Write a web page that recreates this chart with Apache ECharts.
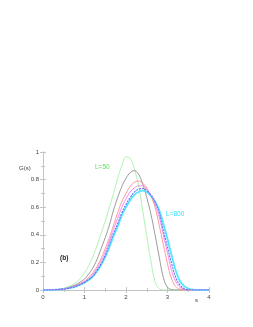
<!DOCTYPE html>
<html><head><meta charset="utf-8">
<script src="https://cdn.jsdelivr.net/npm/echarts@6/dist/echarts.min.js"></script>
<style>html,body{margin:0;padding:0;background:#fff}#c{width:253px;height:327px}</style>
</head><body><div id="c"></div>
<script>
// s values 0.0 .. 4.0 step 0.1
const sValues = [0,0.1,0.2,0.3,0.4,0.5,0.6,0.7,0.8,0.9,1.0,1.1,1.2,1.3,1.4,1.5,1.6,1.7,1.8,1.9,2.0,2.1,2.2,2.3,2.4,2.5,2.6,2.7,2.8,2.9,3.0,3.1,3.2,3.3,3.4,3.5,3.6,3.7,3.8,3.9,4.0];
const gL50 = [0,0,0.001,0.003,0.007,0.013,0.022,0.035,0.055,0.085,0.125,0.175,0.24,0.32,0.41,0.50,0.60,0.70,0.81,0.90,0.965,0.955,0.88,0.76,0.58,0.39,0.21,0.06,0.01,0,0,0,0,0,0,0,0,0,0,0,0];
const gL100 = [0,0,0.001,0.002,0.005,0.01,0.017,0.027,0.04,0.058,0.08,0.115,0.16,0.22,0.30,0.38,0.47,0.58,0.67,0.75,0.81,0.85,0.865,0.84,0.77,0.67,0.55,0.40,0.24,0.09,0.02,0.003,0,0,0,0,0,0,0,0,0];
const gL200 = [0,0,0.001,0.002,0.004,0.008,0.014,0.022,0.033,0.048,0.065,0.09,0.125,0.17,0.23,0.30,0.38,0.47,0.56,0.64,0.70,0.75,0.78,0.79,0.775,0.74,0.68,0.60,0.47,0.33,0.19,0.08,0.025,0.005,0,0,0,0,0,0,0];
const gL300 = [0,0,0.001,0.002,0.004,0.0075,0.013,0.02,0.03,0.044,0.06,0.082,0.112,0.155,0.21,0.275,0.355,0.44,0.52,0.60,0.66,0.71,0.74,0.755,0.755,0.73,0.685,0.62,0.53,0.40,0.27,0.14,0.06,0.02,0.005,0,0,0,0,0,0];
const gL400 = [0,0,0.001,0.002,0.004,0.007,0.012,0.019,0.028,0.04,0.055,0.075,0.10,0.14,0.19,0.25,0.33,0.41,0.48,0.56,0.62,0.67,0.71,0.73,0.735,0.72,0.69,0.64,0.56,0.43,0.31,0.19,0.09,0.035,0.01,0.002,0,0,0,0,0];
const gL800 = [0,0,0.001,0.002,0.004,0.007,0.011,0.018,0.027,0.038,0.052,0.072,0.097,0.135,0.18,0.24,0.31,0.39,0.46,0.54,0.60,0.65,0.69,0.71,0.72,0.71,0.68,0.64,0.58,0.48,0.37,0.25,0.14,0.065,0.028,0.011,0.004,0,0,0,0];
const xTicks = [0,1,2,3,4];
const yTicks = [0,0.2,0.4,0.6,0.8,1];

const pairs = arr => sValues.map((s,i)=>[s,arr[i]]);
const fontF = 'Liberation Sans, Arial, sans-serif';
const chart = echarts.init(document.getElementById('c'), null, {renderer:'canvas'});
const axBase = {
  type:'value', min:0,
  axisLine:{show:true,lineStyle:{color:'#c4c4c4',width:1}},
  axisTick:{show:true,inside:true,length:3,lineStyle:{color:'#c4c4c4'}},
  minorTick:{show:true,splitNumber:2,length:2,lineStyle:{color:'#c4c4c4'}},
  splitLine:{show:false},
};
const series = [
  {name:'L=50', data:pairs(gL50), color:'#90ee90', w:0.7, t:'solid'},
  {name:'L=100', data:pairs(gL100), color:'#707070', w:0.7, t:'solid'},
  {name:'L=200', data:pairs(gL200), color:'#ff8080', w:0.8, t:'solid'},
  {name:'L=800', data:pairs(gL800), color:'#50e8ff', w:1.8, t:'solid'},
  {name:'L=300', data:pairs(gL300), color:'#f080f0', w:0.9, t:'solid'},
  {name:'L=400', data:pairs(gL400), color:'#6a6aff', w:1.1, t:[2,1]},
].map(s=>({type:'line',name:s.name,data:s.data,smooth:0.4,showSymbol:false,
  lineStyle:{color:s.color,width:s.w,type:s.t},itemStyle:{color:s.color},silent:true,animation:false,z:2}));

chart.setOption({
  animation:false,
  grid:{left:43,right:44,top:152,bottom:37},
  xAxis:[
    Object.assign({},axBase,{max:4,interval:1,position:'bottom',
      axisLabel:{show:true,fontSize:6,color:'#444',fontFamily:fontF,margin:4,
        formatter:v=>xTicks.includes(v)?String(v):''}}),
    Object.assign({},axBase,{max:4,interval:1,position:'top',axisLabel:{show:false}})
  ],
  yAxis:[
    Object.assign({},axBase,{max:1,interval:0.2,position:'left',
      axisLabel:{show:true,fontSize:6,color:'#444',fontFamily:fontF,margin:4,
        formatter:v=>{const t=yTicks.find(x=>Math.abs(x-v)<1e-9);return t===undefined?'':String(t);}}}),
    Object.assign({},axBase,{max:1,interval:0.2,position:'right',axisLabel:{show:false}})
  ],
  series:series,
  graphic:[
    {type:'text',left:19,top:165,style:{text:'G(s)',fontSize:6,fill:'#444',fontFamily:fontF}},
    {type:'text',left:195,top:297,style:{text:'s',fontSize:6,fill:'#444',fontFamily:fontF}},
    {type:'text',left:95,top:164,style:{text:'L=50',fontSize:6.5,fill:'#60e060',fontFamily:fontF}},
    {type:'text',left:166,top:211,style:{text:'L=800',fontSize:6.5,fill:'#30e0ff',fontFamily:fontF}},
    {type:'text',left:60,top:255,style:{text:'(b)',fontSize:6.5,fontWeight:'bold',fill:'#222',fontFamily:fontF}}
  ]
});
</script></body></html>
